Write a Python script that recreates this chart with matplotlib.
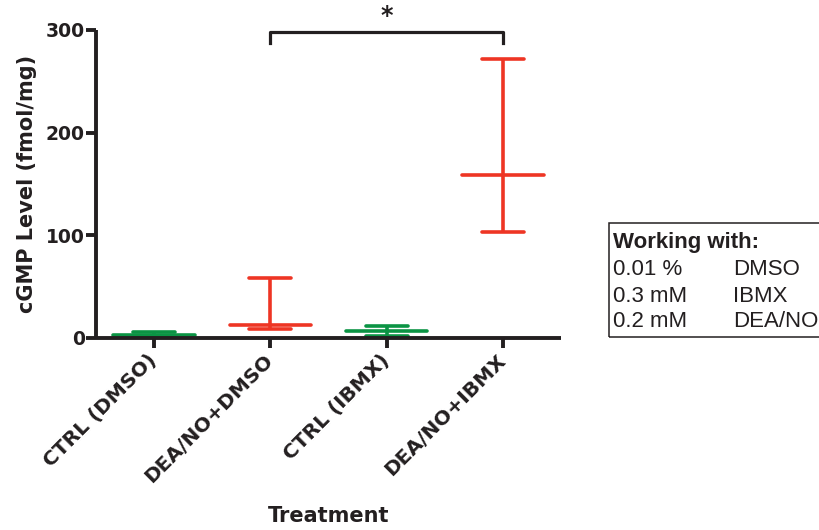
import matplotlib.pyplot as plt
import matplotlib.transforms as mtransforms
from matplotlib.patches import Rectangle

# Data
categories = ['CTRL (DMSO)', 'DEA/NO+DMSO', 'CTRL (IBMX)', 'DEA/NO+IBMX']
median = [3, 12.3, 7.1, 159]
low = [1.6, 8.8, 2.2, 103.5]
high = [5.5, 58, 12, 272]
colors = ['#0B9444', '#EE3524', '#0B9444', '#EE3524']
yticks = [0, 100, 200, 300]
legend_rows = [('0.01 %', 'DMSO'), ('0.3 mM', 'IBMX'), ('0.2 mM', 'DEA/NO')]

plt.rcParams['font.family'] = ['DejaVu Sans']
dark = '#231F20'

fig = plt.figure(figsize=(8.19, 5.30), dpi=100)
ax = fig.add_axes([0.1172, 0.3623, 0.5678, 0.5811])

lw = 2.6
for i in range(len(categories)):
    c = colors[i]
    ax.vlines(i, low[i], high[i], color=c, lw=lw)
    ax.hlines([low[i], high[i]], i - 0.18, i + 0.18, color=c, lw=lw, capstyle='round')
    ax.hlines(median[i], i - 0.35, i + 0.35, color=c, lw=lw, capstyle='round')

ax.set_xlim(-0.5, 3.5)
ax.set_ylim(0, 300)
ax.set_yticks(yticks)
ax.set_xticks(range(len(categories)))
ax.set_xticklabels(categories, rotation=45, ha='right', va='center',
                   rotation_mode='anchor', fontweight='bold', fontsize=14.5, color=dark)
# nudge the rotated labels a little to the right, like the original
shift = mtransforms.ScaledTranslation(3 / 72, 2 / 72, fig.dpi_scale_trans)
for t in ax.get_xticklabels():
    t.set_transform(t.get_transform() + shift)
for t in ax.get_yticklabels():
    t.set_fontweight('bold')
ax.tick_params(axis='y', labelsize=13.5, pad=1, length=7, width=2.8, color=dark, labelcolor=dark)
ax.tick_params(axis='x', pad=7, length=7, width=2.8, color=dark)
for s in ['top', 'right']:
    ax.spines[s].set_visible(False)
for s in ['left', 'bottom']:
    ax.spines[s].set_linewidth(2.8)
    ax.spines[s].set_color(dark)
    ax.spines[s].set_capstyle('butt')

ax.set_ylabel('cGMP Level (fmol/mg)', fontsize=15, fontweight='bold', color=dark, labelpad=6)
ax.set_xlabel('Treatment', fontsize=15, fontweight='bold', color=dark, labelpad=14)

# significance bracket
ax.plot([1, 1, 3, 3], [287, 298, 298, 287], color=dark, lw=2.3, clip_on=False,
        solid_joinstyle='round')
ax.text(2, 302, '*', ha='center', va='bottom', fontsize=17, fontweight='bold', color=dark)

# info box
fig.patches.append(Rectangle((0.7436, 0.364), 0.3, 0.215, transform=fig.transFigure,
                             fill=False, edgecolor=dark, lw=1.1))
box_font = ['Liberation Sans', 'DejaVu Sans']
fig.text(0.748, 0.532, 'Working with:', fontsize=16, fontweight='bold', color=dark,
         va='baseline', family=box_font)
ys = [0.481, 0.430, 0.383]
for (conc, name), y in zip(legend_rows, ys):
    fig.text(0.748, y, conc, fontsize=16, color=dark, va='baseline', family=box_font)
    fig.text(0.895, y, name, fontsize=16, color=dark, va='baseline', family=box_font)

fig.savefig('out.png', dpi=100)
